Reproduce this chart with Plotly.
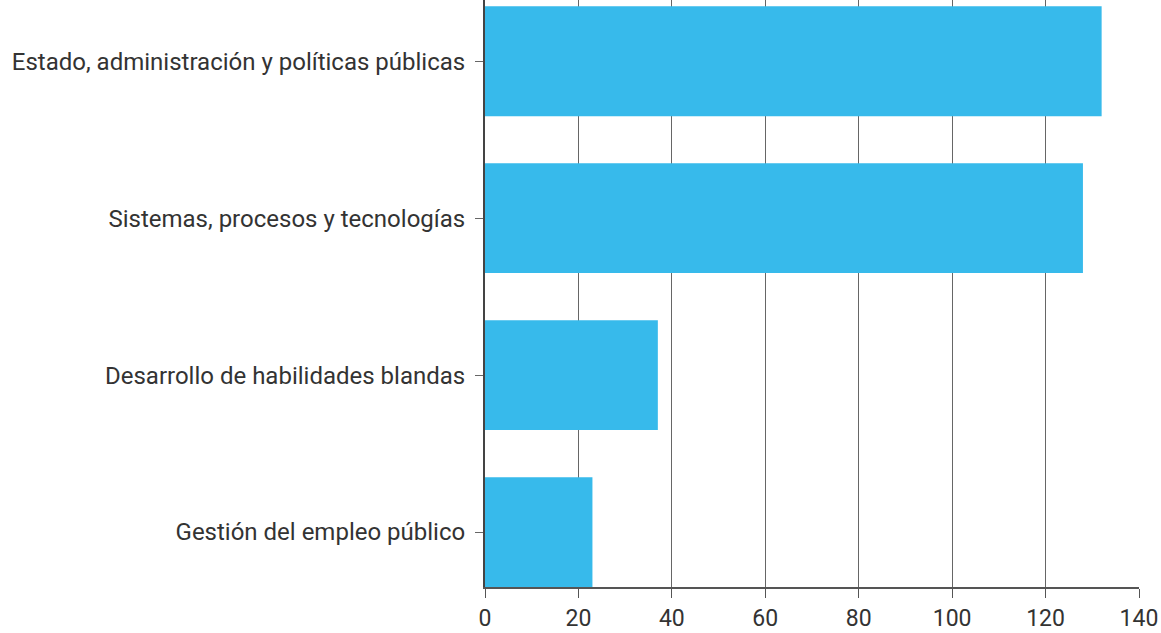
import plotly.graph_objects as go

categories = [
    "Gestión del empleo público",
    "Desarrollo de habilidades blandas",
    "Sistemas, procesos y tecnologías",
    "Estado, administración y políticas públicas",
]
values = [23, 37, 128, 132]
x_ticks = [0, 20, 40, 60, 80, 100, 120, 140]

fig = go.Figure(go.Bar(
    x=values, y=categories, orientation="h",
    marker=dict(color="#37BAEB", line=dict(width=0)),
    hoverinfo="x+y",
))

fig.update_layout(
    width=1161, height=633,
    margin=dict(l=485, r=22, t=0, b=46, autoexpand=False),
    paper_bgcolor="white", plot_bgcolor="white",
    bargap=0.3,
    font=dict(family="Roboto", size=24, color="#333333"),
    showlegend=False,
)
fig.update_xaxes(
    range=[0, 140], tickvals=x_ticks,
    showgrid=True, gridcolor="#666666", gridwidth=1,
    showline=True, linecolor="#555555", linewidth=2,
    ticks="outside", ticklen=9, tickcolor="#555555", tickwidth=1,
    tickfont=dict(size=23, color="#333333"),
    zeroline=False,
)
fig.update_yaxes(
    range=[-0.35, 3.39],
    showline=True, linecolor="#444444", linewidth=2,
    ticks="outside", ticklen=8, tickcolor="#666666", tickwidth=1,
    ticklabelstandoff=5,
    tickfont=dict(size=24, color="#333333"),
    showgrid=False,
)

fig.write_html(
    "out.html",
    config={"displayModeBar": False},
    post_script="document.body.style.margin='0';document.body.style.overflow='hidden';",
)
